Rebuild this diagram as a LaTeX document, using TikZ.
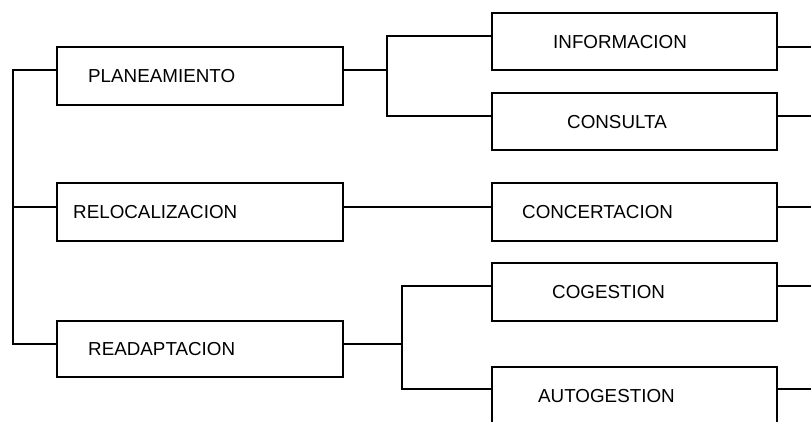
\documentclass[tikz,border=0pt]{standalone}
\usepackage{fontspec}
\setmainfont{Liberation Sans}
\begin{document}
\begin{tikzpicture}[x=1bp,y=-1bp,
  box/.style={draw=black, line width=1.6bp, rectangle, inner sep=0pt, minimum width=285bp, minimum height=58bp},
  lbl/.style={inner sep=0pt, anchor=base west, font=\fontsize{18.8bp}{22bp}\selectfont},
  conn/.style={draw=black, line width=1.6bp, line cap=rect}]
\useasboundingbox (0,0) rectangle (811,421);
\clip (0,0) rectangle (811,421);
% boxes
\node[box, minimum width=286bp] (plan) at (200,76) {};
\node[box, minimum width=286bp] (reloc) at (200,212) {};
\node[box, minimum width=286bp, minimum height=56bp] (read) at (200,349) {};
\node[box, minimum height=57bp] (info) at (634.5,41.5) {};
\node[box, minimum height=57bp] (cons) at (634.5,121.5) {};
\node[box] (conc) at (634.5,212) {};
\node[box] (cog) at (634.5,292) {};
\node[box] (auto) at (634.5,396) {};
% labels
\node[lbl] (tplan) at (88,82) {PLANEAMIENTO};
\node[lbl] (treloc) at (73,218) {RELOCALIZACION};
\node[lbl] (tread) at (88,355) {READAPTACION};
\node[lbl] (tinfo) at (553,48) {INFORMACION};
\node[lbl] (tcons) at (567,128) {CONSULTA};
\node[lbl] (tconc) at (522,218) {CONCERTACION};
\node[lbl] (tcog) at (552,298) {COGESTION};
\node[lbl] (tauto) at (538,402) {AUTOGESTION};
% junction coordinates
\coordinate (ta) at (13,70);
\coordinate (tb) at (13,207);
\coordinate (tc) at (13,344);
\coordinate (pa) at (387,36);
\coordinate (pb) at (387,116);
\coordinate (ra) at (402,286);
\coordinate (rb) at (402,389);
\coordinate (e1) at (811,47);
\coordinate (e2) at (811,116);
\coordinate (e3) at (811,207);
\coordinate (e4) at (811,286);
\coordinate (e5) at (811,389);
% trunk
\draw[conn] (ta) -- (tc);
\draw[conn] (ta) -- (ta -| plan.west);
\draw[conn] (tb) -- (tb -| reloc.west);
\draw[conn] (tc) -- (tc -| read.west);
% planeamiento branch
\draw[conn] (plan.east |- ta) -- (pa |- ta);
\draw[conn] (pa) -- (pb);
\draw[conn] (pa) -- (pa -| info.west);
\draw[conn] (pb) -- (pb -| cons.west);
% relocalizacion
\draw[conn] (reloc.east |- tb) -- (tb -| conc.west);
% readaptacion branch
\draw[conn] (read.east |- tc) -- (ra |- tc);
\draw[conn] (ra) -- (rb);
\draw[conn] (ra) -- (ra -| cog.west);
\draw[conn] (rb) -- (rb -| auto.west);
% right stubs
\draw[conn] (info.east |- e1) -- (e1);
\draw[conn] (cons.east |- e2) -- (e2);
\draw[conn] (conc.east |- e3) -- (e3);
\draw[conn] (cog.east |- e4) -- (e4);
\draw[conn] (auto.east |- e5) -- (e5);
\end{tikzpicture}
\end{document}
